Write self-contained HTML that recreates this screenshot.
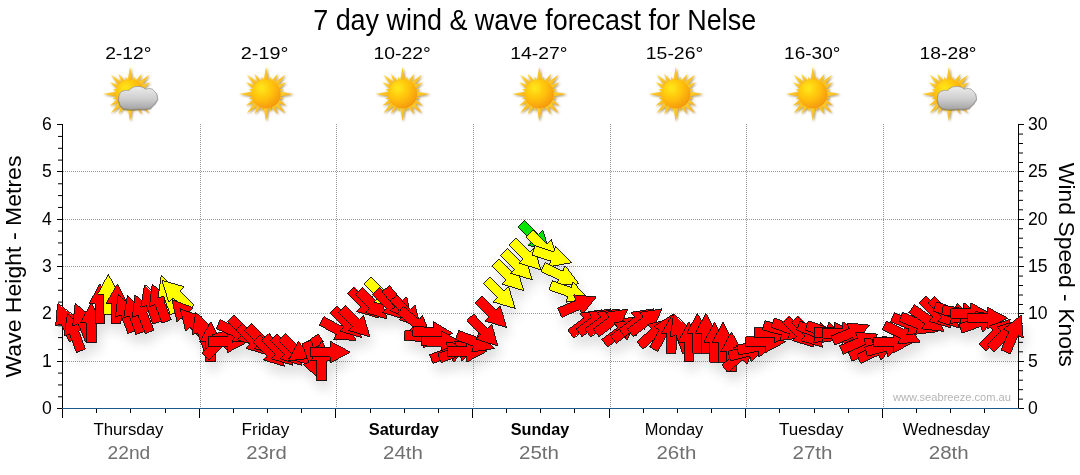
<!DOCTYPE html><html><head><meta charset="utf-8"><style>html,body{margin:0;padding:0;background:#fff;width:1080px;height:475px;overflow:hidden}svg{display:block}</style></head><body>
<svg width="1080" height="475" viewBox="0 0 1080 475" font-family="Liberation Sans, Arial, sans-serif">
<defs>
<radialGradient id="sunDisc" cx="0.35" cy="0.3" r="0.8">
<stop offset="0" stop-color="#ffe818"/><stop offset="0.5" stop-color="#ffbf0c"/><stop offset="1" stop-color="#f2900e"/></radialGradient>
<linearGradient id="rayG" x1="0" y1="0" x2="1" y2="1">
<stop offset="0" stop-color="#ffdc2e"/><stop offset="1" stop-color="#f5a81e"/></linearGradient>
<linearGradient id="cloudG" x1="0" y1="0" x2="0" y2="1">
<stop offset="0" stop-color="#ececec"/><stop offset="0.55" stop-color="#cdcdcd"/><stop offset="1" stop-color="#a4a4a4"/></linearGradient>
<filter id="cloudSh" x="-20%" y="-20%" width="140%" height="150%"><feGaussianBlur in="SourceAlpha" stdDeviation="0.7"/><feOffset dx="0.3" dy="0.9" result="b"/><feFlood flood-color="#5a4a30" flood-opacity="0.55"/><feComposite in2="b" operator="in"/><feMerge><feMergeNode/><feMergeNode in="SourceGraphic"/></feMerge></filter>
<filter id="icoSh" x="-20%" y="-20%" width="140%" height="140%"><feGaussianBlur in="SourceAlpha" stdDeviation="0.8"/><feOffset dx="0.5" dy="0.8" result="b"/><feFlood flood-color="#6b4a00" flood-opacity="0.6"/><feComposite in2="b" operator="in"/><feMerge><feMergeNode/><feMergeNode in="SourceGraphic"/></feMerge></filter>
<filter id="ash" x="-10%" y="-30%" width="120%" height="200%"><feGaussianBlur in="SourceAlpha" stdDeviation="6"/><feOffset dx="3" dy="9" result="b"/><feComponentTransfer in="b" result="c"><feFuncA type="linear" slope="0.13"/></feComponentTransfer><feMerge><feMergeNode in="c"/><feMergeNode in="SourceGraphic"/></feMerge></filter>
</defs>
<text x="534.7" y="30" font-size="29.5" text-anchor="middle" fill="#000" textLength="443" lengthAdjust="spacingAndGlyphs">7 day wind &amp; wave forecast for Nelse</text>
<text x="128.3" y="59" font-size="16.5" text-anchor="middle" textLength="46.3" lengthAdjust="spacingAndGlyphs">2-12°</text>
<text x="264.6" y="59" font-size="16.5" text-anchor="middle" textLength="47.5" lengthAdjust="spacingAndGlyphs">2-19°</text>
<text x="402.2" y="59" font-size="16.5" text-anchor="middle" textLength="57.3" lengthAdjust="spacingAndGlyphs">10-22°</text>
<text x="538.8" y="59" font-size="16.5" text-anchor="middle" textLength="57.3" lengthAdjust="spacingAndGlyphs">14-27°</text>
<text x="674.5" y="59" font-size="16.5" text-anchor="middle" textLength="57.4" lengthAdjust="spacingAndGlyphs">15-26°</text>
<text x="812.2" y="59" font-size="16.5" text-anchor="middle" textLength="56.3" lengthAdjust="spacingAndGlyphs">16-30°</text>
<text x="948.1" y="59" font-size="16.5" text-anchor="middle" textLength="57.0" lengthAdjust="spacingAndGlyphs">18-28°</text>
<g filter="url(#icoSh)"><polygon points="130.10,66.80 132.90,82.00 127.30,82.00" fill="url(#rayG)"/><polygon points="134.76,76.61 135.23,82.95 131.18,81.87" fill="url(#rayG)"/><polygon points="141.80,73.74 138.27,84.86 133.93,82.36" fill="url(#rayG)"/><polygon points="149.33,74.77 140.57,87.49 136.61,83.53" fill="url(#rayG)"/><polygon points="150.36,82.30 141.74,90.17 139.24,85.83" fill="url(#rayG)"/><polygon points="147.49,89.34 142.23,92.92 141.15,88.87" fill="url(#rayG)"/><polygon points="157.30,94.00 142.10,96.80 142.10,91.20" fill="url(#rayG)"/><polygon points="147.49,98.66 141.15,99.13 142.23,95.08" fill="url(#rayG)"/><polygon points="150.36,105.70 139.24,102.17 141.74,97.83" fill="url(#rayG)"/><polygon points="149.33,113.23 136.61,104.47 140.57,100.51" fill="url(#rayG)"/><polygon points="141.80,114.26 133.93,105.64 138.27,103.14" fill="url(#rayG)"/><polygon points="134.76,111.39 131.18,106.13 135.23,105.05" fill="url(#rayG)"/><polygon points="130.10,121.20 127.30,106.00 132.90,106.00" fill="url(#rayG)"/><polygon points="125.44,111.39 124.97,105.05 129.02,106.13" fill="url(#rayG)"/><polygon points="118.40,114.26 121.93,103.14 126.27,105.64" fill="url(#rayG)"/><polygon points="110.87,113.23 119.63,100.51 123.59,104.47" fill="url(#rayG)"/><polygon points="109.84,105.70 118.46,97.83 120.96,102.17" fill="url(#rayG)"/><polygon points="112.71,98.66 117.97,95.08 119.05,99.13" fill="url(#rayG)"/><polygon points="102.90,94.00 118.10,91.20 118.10,96.80" fill="url(#rayG)"/><polygon points="112.71,89.34 119.05,88.87 117.97,92.92" fill="url(#rayG)"/><polygon points="109.84,82.30 120.96,85.83 118.46,90.17" fill="url(#rayG)"/><polygon points="110.87,74.77 123.59,83.53 119.63,87.49" fill="url(#rayG)"/><polygon points="118.40,73.74 126.27,82.36 121.93,84.86" fill="url(#rayG)"/><polygon points="125.44,76.61 129.02,81.87 124.97,82.95" fill="url(#rayG)"/><circle cx="130.1" cy="94" r="14.6" fill="url(#sunDisc)"/></g>
<path d="M118.80,97.40 C119.17,94.07 119.00,94.80 120.40,92.70 C121.80,90.60 120.97,91.90 123.00,91.10 C125.03,90.30 124.60,90.53 126.50,90.30 C128.40,90.07 127.03,91.10 128.70,90.40 C130.37,89.70 128.83,89.47 131.50,88.20 C134.17,86.93 132.97,86.90 136.70,86.60 C140.43,86.30 139.77,86.50 142.70,87.30 C145.63,88.10 143.10,88.57 145.50,89.00 C147.90,89.43 146.93,87.87 149.90,88.60 C152.87,89.33 151.90,88.40 154.40,91.20 C156.90,94.00 156.80,93.53 157.40,97.00 C158.00,100.47 157.83,98.63 156.20,101.60 C154.57,104.57 155.13,103.57 152.50,105.90 C149.87,108.23 153.10,107.53 148.30,108.60 C143.50,109.67 145.13,108.93 138.10,109.10 C131.07,109.27 132.60,109.80 127.20,109.10 C121.80,108.40 124.53,109.13 121.90,107.00 C119.27,104.87 120.33,105.90 119.30,102.70 C118.27,99.50 118.43,100.73 118.80,97.40Z" fill="url(#cloudG)" stroke="#8c8c8c" stroke-width="0.7" filter="url(#cloudSh)"/>
<g filter="url(#icoSh)"><polygon points="266.10,66.80 268.90,82.00 263.30,82.00" fill="url(#rayG)"/><polygon points="270.76,76.61 271.23,82.95 267.18,81.87" fill="url(#rayG)"/><polygon points="277.80,73.74 274.27,84.86 269.93,82.36" fill="url(#rayG)"/><polygon points="285.33,74.77 276.57,87.49 272.61,83.53" fill="url(#rayG)"/><polygon points="286.36,82.30 277.74,90.17 275.24,85.83" fill="url(#rayG)"/><polygon points="283.49,89.34 278.23,92.92 277.15,88.87" fill="url(#rayG)"/><polygon points="293.30,94.00 278.10,96.80 278.10,91.20" fill="url(#rayG)"/><polygon points="283.49,98.66 277.15,99.13 278.23,95.08" fill="url(#rayG)"/><polygon points="286.36,105.70 275.24,102.17 277.74,97.83" fill="url(#rayG)"/><polygon points="285.33,113.23 272.61,104.47 276.57,100.51" fill="url(#rayG)"/><polygon points="277.80,114.26 269.93,105.64 274.27,103.14" fill="url(#rayG)"/><polygon points="270.76,111.39 267.18,106.13 271.23,105.05" fill="url(#rayG)"/><polygon points="266.10,121.20 263.30,106.00 268.90,106.00" fill="url(#rayG)"/><polygon points="261.44,111.39 260.97,105.05 265.02,106.13" fill="url(#rayG)"/><polygon points="254.40,114.26 257.93,103.14 262.27,105.64" fill="url(#rayG)"/><polygon points="246.87,113.23 255.63,100.51 259.59,104.47" fill="url(#rayG)"/><polygon points="245.84,105.70 254.46,97.83 256.96,102.17" fill="url(#rayG)"/><polygon points="248.71,98.66 253.97,95.08 255.05,99.13" fill="url(#rayG)"/><polygon points="238.90,94.00 254.10,91.20 254.10,96.80" fill="url(#rayG)"/><polygon points="248.71,89.34 255.05,88.87 253.97,92.92" fill="url(#rayG)"/><polygon points="245.84,82.30 256.96,85.83 254.46,90.17" fill="url(#rayG)"/><polygon points="246.87,74.77 259.59,83.53 255.63,87.49" fill="url(#rayG)"/><polygon points="254.40,73.74 262.27,82.36 257.93,84.86" fill="url(#rayG)"/><polygon points="261.44,76.61 265.02,81.87 260.97,82.95" fill="url(#rayG)"/><circle cx="266.1" cy="94" r="14.6" fill="url(#sunDisc)"/></g>
<g filter="url(#icoSh)"><polygon points="402.60,66.80 405.40,82.00 399.80,82.00" fill="url(#rayG)"/><polygon points="407.26,76.61 407.73,82.95 403.68,81.87" fill="url(#rayG)"/><polygon points="414.30,73.74 410.77,84.86 406.43,82.36" fill="url(#rayG)"/><polygon points="421.83,74.77 413.07,87.49 409.11,83.53" fill="url(#rayG)"/><polygon points="422.86,82.30 414.24,90.17 411.74,85.83" fill="url(#rayG)"/><polygon points="419.99,89.34 414.73,92.92 413.65,88.87" fill="url(#rayG)"/><polygon points="429.80,94.00 414.60,96.80 414.60,91.20" fill="url(#rayG)"/><polygon points="419.99,98.66 413.65,99.13 414.73,95.08" fill="url(#rayG)"/><polygon points="422.86,105.70 411.74,102.17 414.24,97.83" fill="url(#rayG)"/><polygon points="421.83,113.23 409.11,104.47 413.07,100.51" fill="url(#rayG)"/><polygon points="414.30,114.26 406.43,105.64 410.77,103.14" fill="url(#rayG)"/><polygon points="407.26,111.39 403.68,106.13 407.73,105.05" fill="url(#rayG)"/><polygon points="402.60,121.20 399.80,106.00 405.40,106.00" fill="url(#rayG)"/><polygon points="397.94,111.39 397.47,105.05 401.52,106.13" fill="url(#rayG)"/><polygon points="390.90,114.26 394.43,103.14 398.77,105.64" fill="url(#rayG)"/><polygon points="383.37,113.23 392.13,100.51 396.09,104.47" fill="url(#rayG)"/><polygon points="382.34,105.70 390.96,97.83 393.46,102.17" fill="url(#rayG)"/><polygon points="385.21,98.66 390.47,95.08 391.55,99.13" fill="url(#rayG)"/><polygon points="375.40,94.00 390.60,91.20 390.60,96.80" fill="url(#rayG)"/><polygon points="385.21,89.34 391.55,88.87 390.47,92.92" fill="url(#rayG)"/><polygon points="382.34,82.30 393.46,85.83 390.96,90.17" fill="url(#rayG)"/><polygon points="383.37,74.77 396.09,83.53 392.13,87.49" fill="url(#rayG)"/><polygon points="390.90,73.74 398.77,82.36 394.43,84.86" fill="url(#rayG)"/><polygon points="397.94,76.61 401.52,81.87 397.47,82.95" fill="url(#rayG)"/><circle cx="402.6" cy="94" r="14.6" fill="url(#sunDisc)"/></g>
<g filter="url(#icoSh)"><polygon points="539.30,66.80 542.10,82.00 536.50,82.00" fill="url(#rayG)"/><polygon points="543.96,76.61 544.43,82.95 540.38,81.87" fill="url(#rayG)"/><polygon points="551.00,73.74 547.47,84.86 543.13,82.36" fill="url(#rayG)"/><polygon points="558.53,74.77 549.77,87.49 545.81,83.53" fill="url(#rayG)"/><polygon points="559.56,82.30 550.94,90.17 548.44,85.83" fill="url(#rayG)"/><polygon points="556.69,89.34 551.43,92.92 550.35,88.87" fill="url(#rayG)"/><polygon points="566.50,94.00 551.30,96.80 551.30,91.20" fill="url(#rayG)"/><polygon points="556.69,98.66 550.35,99.13 551.43,95.08" fill="url(#rayG)"/><polygon points="559.56,105.70 548.44,102.17 550.94,97.83" fill="url(#rayG)"/><polygon points="558.53,113.23 545.81,104.47 549.77,100.51" fill="url(#rayG)"/><polygon points="551.00,114.26 543.13,105.64 547.47,103.14" fill="url(#rayG)"/><polygon points="543.96,111.39 540.38,106.13 544.43,105.05" fill="url(#rayG)"/><polygon points="539.30,121.20 536.50,106.00 542.10,106.00" fill="url(#rayG)"/><polygon points="534.64,111.39 534.17,105.05 538.22,106.13" fill="url(#rayG)"/><polygon points="527.60,114.26 531.13,103.14 535.47,105.64" fill="url(#rayG)"/><polygon points="520.07,113.23 528.83,100.51 532.79,104.47" fill="url(#rayG)"/><polygon points="519.04,105.70 527.66,97.83 530.16,102.17" fill="url(#rayG)"/><polygon points="521.91,98.66 527.17,95.08 528.25,99.13" fill="url(#rayG)"/><polygon points="512.10,94.00 527.30,91.20 527.30,96.80" fill="url(#rayG)"/><polygon points="521.91,89.34 528.25,88.87 527.17,92.92" fill="url(#rayG)"/><polygon points="519.04,82.30 530.16,85.83 527.66,90.17" fill="url(#rayG)"/><polygon points="520.07,74.77 532.79,83.53 528.83,87.49" fill="url(#rayG)"/><polygon points="527.60,73.74 535.47,82.36 531.13,84.86" fill="url(#rayG)"/><polygon points="534.64,76.61 538.22,81.87 534.17,82.95" fill="url(#rayG)"/><circle cx="539.3" cy="94" r="14.6" fill="url(#sunDisc)"/></g>
<g filter="url(#icoSh)"><polygon points="675.80,66.80 678.60,82.00 673.00,82.00" fill="url(#rayG)"/><polygon points="680.46,76.61 680.93,82.95 676.88,81.87" fill="url(#rayG)"/><polygon points="687.50,73.74 683.97,84.86 679.63,82.36" fill="url(#rayG)"/><polygon points="695.03,74.77 686.27,87.49 682.31,83.53" fill="url(#rayG)"/><polygon points="696.06,82.30 687.44,90.17 684.94,85.83" fill="url(#rayG)"/><polygon points="693.19,89.34 687.93,92.92 686.85,88.87" fill="url(#rayG)"/><polygon points="703.00,94.00 687.80,96.80 687.80,91.20" fill="url(#rayG)"/><polygon points="693.19,98.66 686.85,99.13 687.93,95.08" fill="url(#rayG)"/><polygon points="696.06,105.70 684.94,102.17 687.44,97.83" fill="url(#rayG)"/><polygon points="695.03,113.23 682.31,104.47 686.27,100.51" fill="url(#rayG)"/><polygon points="687.50,114.26 679.63,105.64 683.97,103.14" fill="url(#rayG)"/><polygon points="680.46,111.39 676.88,106.13 680.93,105.05" fill="url(#rayG)"/><polygon points="675.80,121.20 673.00,106.00 678.60,106.00" fill="url(#rayG)"/><polygon points="671.14,111.39 670.67,105.05 674.72,106.13" fill="url(#rayG)"/><polygon points="664.10,114.26 667.63,103.14 671.97,105.64" fill="url(#rayG)"/><polygon points="656.57,113.23 665.33,100.51 669.29,104.47" fill="url(#rayG)"/><polygon points="655.54,105.70 664.16,97.83 666.66,102.17" fill="url(#rayG)"/><polygon points="658.41,98.66 663.67,95.08 664.75,99.13" fill="url(#rayG)"/><polygon points="648.60,94.00 663.80,91.20 663.80,96.80" fill="url(#rayG)"/><polygon points="658.41,89.34 664.75,88.87 663.67,92.92" fill="url(#rayG)"/><polygon points="655.54,82.30 666.66,85.83 664.16,90.17" fill="url(#rayG)"/><polygon points="656.57,74.77 669.29,83.53 665.33,87.49" fill="url(#rayG)"/><polygon points="664.10,73.74 671.97,82.36 667.63,84.86" fill="url(#rayG)"/><polygon points="671.14,76.61 674.72,81.87 670.67,82.95" fill="url(#rayG)"/><circle cx="675.8" cy="94" r="14.6" fill="url(#sunDisc)"/></g>
<g filter="url(#icoSh)"><polygon points="812.90,66.80 815.70,82.00 810.10,82.00" fill="url(#rayG)"/><polygon points="817.56,76.61 818.03,82.95 813.98,81.87" fill="url(#rayG)"/><polygon points="824.60,73.74 821.07,84.86 816.73,82.36" fill="url(#rayG)"/><polygon points="832.13,74.77 823.37,87.49 819.41,83.53" fill="url(#rayG)"/><polygon points="833.16,82.30 824.54,90.17 822.04,85.83" fill="url(#rayG)"/><polygon points="830.29,89.34 825.03,92.92 823.95,88.87" fill="url(#rayG)"/><polygon points="840.10,94.00 824.90,96.80 824.90,91.20" fill="url(#rayG)"/><polygon points="830.29,98.66 823.95,99.13 825.03,95.08" fill="url(#rayG)"/><polygon points="833.16,105.70 822.04,102.17 824.54,97.83" fill="url(#rayG)"/><polygon points="832.13,113.23 819.41,104.47 823.37,100.51" fill="url(#rayG)"/><polygon points="824.60,114.26 816.73,105.64 821.07,103.14" fill="url(#rayG)"/><polygon points="817.56,111.39 813.98,106.13 818.03,105.05" fill="url(#rayG)"/><polygon points="812.90,121.20 810.10,106.00 815.70,106.00" fill="url(#rayG)"/><polygon points="808.24,111.39 807.77,105.05 811.82,106.13" fill="url(#rayG)"/><polygon points="801.20,114.26 804.73,103.14 809.07,105.64" fill="url(#rayG)"/><polygon points="793.67,113.23 802.43,100.51 806.39,104.47" fill="url(#rayG)"/><polygon points="792.64,105.70 801.26,97.83 803.76,102.17" fill="url(#rayG)"/><polygon points="795.51,98.66 800.77,95.08 801.85,99.13" fill="url(#rayG)"/><polygon points="785.70,94.00 800.90,91.20 800.90,96.80" fill="url(#rayG)"/><polygon points="795.51,89.34 801.85,88.87 800.77,92.92" fill="url(#rayG)"/><polygon points="792.64,82.30 803.76,85.83 801.26,90.17" fill="url(#rayG)"/><polygon points="793.67,74.77 806.39,83.53 802.43,87.49" fill="url(#rayG)"/><polygon points="801.20,73.74 809.07,82.36 804.73,84.86" fill="url(#rayG)"/><polygon points="808.24,76.61 811.82,81.87 807.77,82.95" fill="url(#rayG)"/><circle cx="812.9" cy="94" r="14.6" fill="url(#sunDisc)"/></g>
<g filter="url(#icoSh)"><polygon points="948.90,66.80 951.70,82.00 946.10,82.00" fill="url(#rayG)"/><polygon points="953.56,76.61 954.03,82.95 949.98,81.87" fill="url(#rayG)"/><polygon points="960.60,73.74 957.07,84.86 952.73,82.36" fill="url(#rayG)"/><polygon points="968.13,74.77 959.37,87.49 955.41,83.53" fill="url(#rayG)"/><polygon points="969.16,82.30 960.54,90.17 958.04,85.83" fill="url(#rayG)"/><polygon points="966.29,89.34 961.03,92.92 959.95,88.87" fill="url(#rayG)"/><polygon points="976.10,94.00 960.90,96.80 960.90,91.20" fill="url(#rayG)"/><polygon points="966.29,98.66 959.95,99.13 961.03,95.08" fill="url(#rayG)"/><polygon points="969.16,105.70 958.04,102.17 960.54,97.83" fill="url(#rayG)"/><polygon points="968.13,113.23 955.41,104.47 959.37,100.51" fill="url(#rayG)"/><polygon points="960.60,114.26 952.73,105.64 957.07,103.14" fill="url(#rayG)"/><polygon points="953.56,111.39 949.98,106.13 954.03,105.05" fill="url(#rayG)"/><polygon points="948.90,121.20 946.10,106.00 951.70,106.00" fill="url(#rayG)"/><polygon points="944.24,111.39 943.77,105.05 947.82,106.13" fill="url(#rayG)"/><polygon points="937.20,114.26 940.73,103.14 945.07,105.64" fill="url(#rayG)"/><polygon points="929.67,113.23 938.43,100.51 942.39,104.47" fill="url(#rayG)"/><polygon points="928.64,105.70 937.26,97.83 939.76,102.17" fill="url(#rayG)"/><polygon points="931.51,98.66 936.77,95.08 937.85,99.13" fill="url(#rayG)"/><polygon points="921.70,94.00 936.90,91.20 936.90,96.80" fill="url(#rayG)"/><polygon points="931.51,89.34 937.85,88.87 936.77,92.92" fill="url(#rayG)"/><polygon points="928.64,82.30 939.76,85.83 937.26,90.17" fill="url(#rayG)"/><polygon points="929.67,74.77 942.39,83.53 938.43,87.49" fill="url(#rayG)"/><polygon points="937.20,73.74 945.07,82.36 940.73,84.86" fill="url(#rayG)"/><polygon points="944.24,76.61 947.82,81.87 943.77,82.95" fill="url(#rayG)"/><circle cx="948.9" cy="94" r="14.6" fill="url(#sunDisc)"/></g>
<path d="M937.60,97.40 C937.97,94.07 937.80,94.80 939.20,92.70 C940.60,90.60 939.77,91.90 941.80,91.10 C943.83,90.30 943.40,90.53 945.30,90.30 C947.20,90.07 945.83,91.10 947.50,90.40 C949.17,89.70 947.63,89.47 950.30,88.20 C952.97,86.93 951.77,86.90 955.50,86.60 C959.23,86.30 958.57,86.50 961.50,87.30 C964.43,88.10 961.90,88.57 964.30,89.00 C966.70,89.43 965.73,87.87 968.70,88.60 C971.67,89.33 970.70,88.40 973.20,91.20 C975.70,94.00 975.60,93.53 976.20,97.00 C976.80,100.47 976.63,98.63 975.00,101.60 C973.37,104.57 973.93,103.57 971.30,105.90 C968.67,108.23 971.90,107.53 967.10,108.60 C962.30,109.67 963.93,108.93 956.90,109.10 C949.87,109.27 951.40,109.80 946.00,109.10 C940.60,108.40 943.33,109.13 940.70,107.00 C938.07,104.87 939.13,105.90 938.10,102.70 C937.07,99.50 937.23,100.73 937.60,97.40Z" fill="url(#cloudG)" stroke="#8c8c8c" stroke-width="0.7" filter="url(#cloudSh)"/>
<line x1="63" y1="361.5" x2="1018" y2="361.5" stroke="#999" stroke-width="1" stroke-dasharray="1 1"/>
<line x1="63" y1="313.5" x2="1018" y2="313.5" stroke="#999" stroke-width="1" stroke-dasharray="1 1"/>
<line x1="63" y1="266.5" x2="1018" y2="266.5" stroke="#999" stroke-width="1" stroke-dasharray="1 1"/>
<line x1="63" y1="219.5" x2="1018" y2="219.5" stroke="#999" stroke-width="1" stroke-dasharray="1 1"/>
<line x1="63" y1="171.5" x2="1018" y2="171.5" stroke="#999" stroke-width="1" stroke-dasharray="1 1"/>
<line x1="200.5" y1="124" x2="200.5" y2="408" stroke="#999" stroke-width="1" stroke-dasharray="1 1"/>
<line x1="336.5" y1="124" x2="336.5" y2="408" stroke="#999" stroke-width="1" stroke-dasharray="1 1"/>
<line x1="473.5" y1="124" x2="473.5" y2="408" stroke="#999" stroke-width="1" stroke-dasharray="1 1"/>
<line x1="610.5" y1="124" x2="610.5" y2="408" stroke="#999" stroke-width="1" stroke-dasharray="1 1"/>
<line x1="746.5" y1="124" x2="746.5" y2="408" stroke="#999" stroke-width="1" stroke-dasharray="1 1"/>
<line x1="883.5" y1="124" x2="883.5" y2="408" stroke="#999" stroke-width="1" stroke-dasharray="1 1"/>
<line x1="62.5" y1="124" x2="62.5" y2="418" stroke="#000" stroke-width="1"/>
<line x1="1018.5" y1="124" x2="1018.5" y2="409" stroke="#000" stroke-width="1"/>
<line x1="62" y1="408.5" x2="1019" y2="408.5" stroke="#1d5a8a" stroke-width="1.2"/>
<line x1="57" y1="408.5" x2="62" y2="408.5" stroke="#000" stroke-width="1"/>
<line x1="58" y1="396.77" x2="62" y2="396.77" stroke="#000" stroke-width="1"/>
<line x1="58" y1="384.93" x2="62" y2="384.93" stroke="#000" stroke-width="1"/>
<line x1="58" y1="373.10" x2="62" y2="373.10" stroke="#000" stroke-width="1"/>
<line x1="57" y1="361.5" x2="62" y2="361.5" stroke="#000" stroke-width="1"/>
<line x1="58" y1="349.43" x2="62" y2="349.43" stroke="#000" stroke-width="1"/>
<line x1="58" y1="337.60" x2="62" y2="337.60" stroke="#000" stroke-width="1"/>
<line x1="58" y1="325.77" x2="62" y2="325.77" stroke="#000" stroke-width="1"/>
<line x1="57" y1="313.5" x2="62" y2="313.5" stroke="#000" stroke-width="1"/>
<line x1="58" y1="302.10" x2="62" y2="302.10" stroke="#000" stroke-width="1"/>
<line x1="58" y1="290.27" x2="62" y2="290.27" stroke="#000" stroke-width="1"/>
<line x1="58" y1="278.43" x2="62" y2="278.43" stroke="#000" stroke-width="1"/>
<line x1="57" y1="266.5" x2="62" y2="266.5" stroke="#000" stroke-width="1"/>
<line x1="58" y1="254.77" x2="62" y2="254.77" stroke="#000" stroke-width="1"/>
<line x1="58" y1="242.93" x2="62" y2="242.93" stroke="#000" stroke-width="1"/>
<line x1="58" y1="231.10" x2="62" y2="231.10" stroke="#000" stroke-width="1"/>
<line x1="57" y1="219.5" x2="62" y2="219.5" stroke="#000" stroke-width="1"/>
<line x1="58" y1="207.43" x2="62" y2="207.43" stroke="#000" stroke-width="1"/>
<line x1="58" y1="195.60" x2="62" y2="195.60" stroke="#000" stroke-width="1"/>
<line x1="58" y1="183.77" x2="62" y2="183.77" stroke="#000" stroke-width="1"/>
<line x1="57" y1="171.5" x2="62" y2="171.5" stroke="#000" stroke-width="1"/>
<line x1="58" y1="160.10" x2="62" y2="160.10" stroke="#000" stroke-width="1"/>
<line x1="58" y1="148.27" x2="62" y2="148.27" stroke="#000" stroke-width="1"/>
<line x1="58" y1="136.43" x2="62" y2="136.43" stroke="#000" stroke-width="1"/>
<line x1="57" y1="124.5" x2="62" y2="124.5" stroke="#000" stroke-width="1"/>
<line x1="1019" y1="408.5" x2="1024" y2="408.5" stroke="#000" stroke-width="1"/>
<line x1="1019" y1="399.13" x2="1023" y2="399.13" stroke="#000" stroke-width="1"/>
<line x1="1019" y1="389.67" x2="1023" y2="389.67" stroke="#000" stroke-width="1"/>
<line x1="1019" y1="380.20" x2="1023" y2="380.20" stroke="#000" stroke-width="1"/>
<line x1="1019" y1="370.73" x2="1023" y2="370.73" stroke="#000" stroke-width="1"/>
<line x1="1019" y1="361.5" x2="1024" y2="361.5" stroke="#000" stroke-width="1"/>
<line x1="1019" y1="351.80" x2="1023" y2="351.80" stroke="#000" stroke-width="1"/>
<line x1="1019" y1="342.33" x2="1023" y2="342.33" stroke="#000" stroke-width="1"/>
<line x1="1019" y1="332.87" x2="1023" y2="332.87" stroke="#000" stroke-width="1"/>
<line x1="1019" y1="323.40" x2="1023" y2="323.40" stroke="#000" stroke-width="1"/>
<line x1="1019" y1="313.5" x2="1024" y2="313.5" stroke="#000" stroke-width="1"/>
<line x1="1019" y1="304.47" x2="1023" y2="304.47" stroke="#000" stroke-width="1"/>
<line x1="1019" y1="295.00" x2="1023" y2="295.00" stroke="#000" stroke-width="1"/>
<line x1="1019" y1="285.53" x2="1023" y2="285.53" stroke="#000" stroke-width="1"/>
<line x1="1019" y1="276.07" x2="1023" y2="276.07" stroke="#000" stroke-width="1"/>
<line x1="1019" y1="266.5" x2="1024" y2="266.5" stroke="#000" stroke-width="1"/>
<line x1="1019" y1="257.13" x2="1023" y2="257.13" stroke="#000" stroke-width="1"/>
<line x1="1019" y1="247.67" x2="1023" y2="247.67" stroke="#000" stroke-width="1"/>
<line x1="1019" y1="238.20" x2="1023" y2="238.20" stroke="#000" stroke-width="1"/>
<line x1="1019" y1="228.73" x2="1023" y2="228.73" stroke="#000" stroke-width="1"/>
<line x1="1019" y1="219.5" x2="1024" y2="219.5" stroke="#000" stroke-width="1"/>
<line x1="1019" y1="209.80" x2="1023" y2="209.80" stroke="#000" stroke-width="1"/>
<line x1="1019" y1="200.33" x2="1023" y2="200.33" stroke="#000" stroke-width="1"/>
<line x1="1019" y1="190.87" x2="1023" y2="190.87" stroke="#000" stroke-width="1"/>
<line x1="1019" y1="181.40" x2="1023" y2="181.40" stroke="#000" stroke-width="1"/>
<line x1="1019" y1="171.5" x2="1024" y2="171.5" stroke="#000" stroke-width="1"/>
<line x1="1019" y1="162.47" x2="1023" y2="162.47" stroke="#000" stroke-width="1"/>
<line x1="1019" y1="153.00" x2="1023" y2="153.00" stroke="#000" stroke-width="1"/>
<line x1="1019" y1="143.53" x2="1023" y2="143.53" stroke="#000" stroke-width="1"/>
<line x1="1019" y1="134.07" x2="1023" y2="134.07" stroke="#000" stroke-width="1"/>
<line x1="1019" y1="124.5" x2="1024" y2="124.5" stroke="#000" stroke-width="1"/>
<line x1="62.5" y1="409" x2="62.5" y2="418" stroke="#000" stroke-width="1"/>
<line x1="96.5" y1="409" x2="96.5" y2="413" stroke="#000" stroke-width="1"/>
<line x1="130.5" y1="409" x2="130.5" y2="413" stroke="#000" stroke-width="1"/>
<line x1="165.5" y1="409" x2="165.5" y2="413" stroke="#000" stroke-width="1"/>
<line x1="199.5" y1="409" x2="199.5" y2="418" stroke="#000" stroke-width="1"/>
<line x1="233.5" y1="409" x2="233.5" y2="413" stroke="#000" stroke-width="1"/>
<line x1="267.5" y1="409" x2="267.5" y2="413" stroke="#000" stroke-width="1"/>
<line x1="301.5" y1="409" x2="301.5" y2="413" stroke="#000" stroke-width="1"/>
<line x1="335.5" y1="409" x2="335.5" y2="418" stroke="#000" stroke-width="1"/>
<line x1="370.5" y1="409" x2="370.5" y2="413" stroke="#000" stroke-width="1"/>
<line x1="404.5" y1="409" x2="404.5" y2="413" stroke="#000" stroke-width="1"/>
<line x1="438.5" y1="409" x2="438.5" y2="413" stroke="#000" stroke-width="1"/>
<line x1="472.5" y1="409" x2="472.5" y2="418" stroke="#000" stroke-width="1"/>
<line x1="506.5" y1="409" x2="506.5" y2="413" stroke="#000" stroke-width="1"/>
<line x1="540.5" y1="409" x2="540.5" y2="413" stroke="#000" stroke-width="1"/>
<line x1="574.5" y1="409" x2="574.5" y2="413" stroke="#000" stroke-width="1"/>
<line x1="609.5" y1="409" x2="609.5" y2="418" stroke="#000" stroke-width="1"/>
<line x1="643.5" y1="409" x2="643.5" y2="413" stroke="#000" stroke-width="1"/>
<line x1="677.5" y1="409" x2="677.5" y2="413" stroke="#000" stroke-width="1"/>
<line x1="711.5" y1="409" x2="711.5" y2="413" stroke="#000" stroke-width="1"/>
<line x1="745.5" y1="409" x2="745.5" y2="418" stroke="#000" stroke-width="1"/>
<line x1="779.5" y1="409" x2="779.5" y2="413" stroke="#000" stroke-width="1"/>
<line x1="814.5" y1="409" x2="814.5" y2="413" stroke="#000" stroke-width="1"/>
<line x1="848.5" y1="409" x2="848.5" y2="413" stroke="#000" stroke-width="1"/>
<line x1="882.5" y1="409" x2="882.5" y2="418" stroke="#000" stroke-width="1"/>
<line x1="916.5" y1="409" x2="916.5" y2="413" stroke="#000" stroke-width="1"/>
<line x1="950.5" y1="409" x2="950.5" y2="413" stroke="#000" stroke-width="1"/>
<line x1="984.5" y1="409" x2="984.5" y2="413" stroke="#000" stroke-width="1"/>
<g filter="url(#ash)" stroke="#111" stroke-width="0.9" stroke-linejoin="miter" shape-rendering="crispEdges">
<polygon points="57.5,303.6 75.5,317.5 70.0,319.9 78.0,338.0 69.3,341.9 61.2,323.8 55.7,326.2" fill="#ff0000"/>
<polygon points="67.3,313.5 84.3,328.6 78.6,330.6 85.4,349.2 76.4,352.5 69.6,333.9 64.0,336.0" fill="#ff0000"/>
<polygon points="75.2,303.3 92.7,317.8 87.1,320.1 94.5,338.4 85.6,342.0 78.2,323.7 72.7,325.9" fill="#ff0000"/>
<polygon points="91.2,302.8 102.0,322.8 96.0,322.8 96.0,342.6 86.4,342.6 86.4,322.8 80.4,322.8" fill="#ff0000"/>
<polygon points="99.8,283.9 110.5,303.9 104.5,303.9 104.5,323.7 95.0,323.7 95.0,303.9 89.0,303.9" fill="#ff0000"/>
<polygon points="108.3,274.4 119.1,294.4 113.1,294.4 113.1,314.2 103.5,314.2 103.5,294.4 97.5,294.4" fill="#ffff00"/>
<polygon points="117.5,283.9 127.6,304.2 121.6,304.0 120.9,323.8 111.3,323.5 112.0,303.7 106.0,303.5" fill="#ff0000"/>
<polygon points="118.2,294.7 135.4,309.5 129.8,311.6 136.9,330.1 128.0,333.5 120.9,315.1 115.3,317.2" fill="#ff0000"/>
<polygon points="127.4,295.4 144.1,310.8 138.4,312.7 144.9,331.4 135.8,334.6 129.4,315.8 123.7,317.8" fill="#ff0000"/>
<polygon points="134.9,294.8 152.5,309.3 146.9,311.5 154.3,329.9 145.4,333.5 138.0,315.1 132.4,317.4" fill="#ff0000"/>
<polygon points="144.5,285.0 161.2,300.4 155.5,302.3 162.0,321.0 152.9,324.2 146.4,305.4 140.8,307.4" fill="#ff0000"/>
<polygon points="152.3,284.2 169.6,299.0 164.0,301.2 171.1,319.7 162.1,323.1 155.0,304.6 149.4,306.8" fill="#ff0000"/>
<polygon points="161.2,275.6 178.2,290.7 172.6,292.8 179.3,311.4 170.3,314.6 163.5,296.0 157.9,298.1" fill="#ffff00"/>
<polygon points="162.2,280.5 184.1,286.6 179.9,290.9 194.2,304.7 187.5,311.6 173.3,297.9 169.1,302.2" fill="#ffff00"/>
<polygon points="172.0,299.8 193.3,307.8 188.7,311.7 201.7,326.6 194.5,332.9 181.5,318.0 177.0,321.9" fill="#ff0000"/>
<polygon points="180.3,308.9 201.7,316.5 197.2,320.5 210.5,335.2 203.3,341.7 190.1,327.0 185.6,331.0" fill="#ff0000"/>
<polygon points="195.7,312.4 212.4,327.8 206.7,329.8 213.2,348.5 204.1,351.6 197.7,332.9 192.0,334.8" fill="#ff0000"/>
<polygon points="210.7,321.7 221.5,341.7 215.5,341.7 215.5,361.5 205.9,361.5 205.9,341.7 199.9,341.7" fill="#ff0000"/>
<polygon points="233.4,328.5 226.9,350.3 222.7,346.1 208.7,360.1 201.9,353.3 215.9,339.3 211.6,335.0" fill="#ff0000"/>
<polygon points="247.8,341.7 227.8,352.5 227.8,346.5 208.0,346.5 208.0,336.9 227.8,336.9 227.8,330.9" fill="#ff0000"/>
<polygon points="254.6,340.4 232.0,342.1 234.4,336.7 216.3,328.6 220.2,319.8 238.3,327.9 240.7,322.4" fill="#ff0000"/>
<polygon points="259.0,346.4 237.3,339.9 241.5,335.7 227.5,321.7 234.3,314.9 248.3,328.9 252.5,324.6" fill="#ff0000"/>
<polygon points="267.6,354.9 245.8,348.4 250.0,344.2 236.0,330.2 242.8,323.4 256.8,337.4 261.1,333.1" fill="#ff0000"/>
<polygon points="276.1,354.9 254.3,348.4 258.6,344.2 244.6,330.2 251.4,323.4 265.4,337.4 269.6,333.1" fill="#ff0000"/>
<polygon points="284.6,366.3 262.9,359.8 267.1,355.5 253.1,341.5 259.9,334.8 273.9,348.8 278.1,344.5" fill="#ff0000"/>
<polygon points="293.2,365.3 271.4,358.8 275.6,354.6 261.6,340.6 268.4,333.8 282.4,347.8 286.7,343.6" fill="#ff0000"/>
<polygon points="301.7,365.3 279.9,358.8 284.2,354.6 270.2,340.6 277.0,333.8 291.0,347.8 295.2,343.6" fill="#ff0000"/>
<polygon points="310.3,365.3 288.5,358.8 292.7,354.6 278.7,340.6 285.5,333.8 299.5,347.8 303.7,343.6" fill="#ff0000"/>
<polygon points="288.3,360.8 298.5,340.5 301.9,345.4 318.1,334.0 323.6,341.9 307.4,353.2 310.8,358.2" fill="#ff0000"/>
<polygon points="320.0,379.5 303.0,364.4 308.7,362.3 301.9,343.7 310.9,340.4 317.7,359.0 323.3,357.0" fill="#ff0000"/>
<polygon points="321.7,340.7 332.5,360.7 326.5,360.7 326.5,380.5 316.9,380.5 316.9,360.7 310.9,360.7" fill="#ff0000"/>
<polygon points="350.3,352.1 330.3,362.9 330.3,356.9 310.5,356.9 310.5,347.3 330.3,347.3 330.3,341.3" fill="#ff0000"/>
<polygon points="356.3,340.1 333.6,339.8 336.5,334.6 319.2,325.0 323.8,316.6 341.1,326.2 344.0,320.9" fill="#ff0000"/>
<polygon points="361.5,337.5 339.7,331.0 343.9,326.8 329.9,312.8 336.7,306.0 350.7,320.0 355.0,315.7" fill="#ff0000"/>
<polygon points="370.0,336.9 348.2,330.4 352.5,326.2 338.5,312.2 345.3,305.4 359.3,319.4 363.5,315.2" fill="#ff0000"/>
<polygon points="378.6,318.0 356.8,311.5 361.0,307.3 347.0,293.3 353.8,286.5 367.8,300.5 372.0,296.2" fill="#ff0000"/>
<polygon points="387.1,319.0 365.3,312.5 369.6,308.2 355.6,294.2 362.3,287.4 376.3,301.4 380.6,297.2" fill="#ff0000"/>
<polygon points="395.6,308.5 373.9,302.0 378.1,297.8 364.1,283.8 370.9,277.0 384.9,291.0 389.1,286.8" fill="#ffff00"/>
<polygon points="404.2,319.0 382.4,312.5 386.6,308.2 372.6,294.2 379.4,287.4 393.4,301.4 397.7,297.2" fill="#ff0000"/>
<polygon points="411.4,319.2 390.3,310.8 394.9,307.0 382.2,291.8 389.5,285.6 402.2,300.8 406.8,296.9" fill="#ff0000"/>
<polygon points="420.5,327.2 399.1,319.6 403.5,315.6 390.3,300.9 397.4,294.5 410.7,309.2 415.1,305.2" fill="#ff0000"/>
<polygon points="431.0,335.7 408.7,331.1 412.6,326.5 397.4,313.7 403.6,306.4 418.7,319.1 422.6,314.5" fill="#ff0000"/>
<polygon points="444.1,338.7 423.2,347.8 423.8,341.8 404.0,340.1 404.9,330.5 424.6,332.2 425.1,326.2" fill="#ff0000"/>
<polygon points="452.7,333.3 432.1,343.1 432.5,337.1 412.7,336.0 413.2,326.4 433.0,327.5 433.3,321.5" fill="#ff0000"/>
<polygon points="461.2,342.4 440.9,352.5 441.1,346.5 421.3,345.8 421.6,336.2 441.4,336.9 441.6,330.9" fill="#ff0000"/>
<polygon points="468.6,345.3 453.5,362.3 451.4,356.7 432.8,363.4 429.5,354.4 448.1,347.6 446.1,342.0" fill="#ff0000"/>
<polygon points="477.1,344.4 462.0,361.3 460.0,355.7 441.4,362.5 438.1,353.5 456.7,346.7 454.6,341.1" fill="#ff0000"/>
<polygon points="486.9,351.2 466.9,362.0 466.9,356.0 447.1,356.0 447.1,346.4 466.9,346.4 466.9,340.4" fill="#ff0000"/>
<polygon points="494.2,348.6 471.7,351.9 473.8,346.2 455.2,339.5 458.4,330.5 477.0,337.2 479.1,331.6" fill="#ff0000"/>
<polygon points="497.8,346.0 476.2,339.1 480.5,334.9 466.7,320.7 473.6,314.0 487.4,328.3 491.7,324.1" fill="#ff0000"/>
<polygon points="506.6,327.5 484.8,321.0 489.1,316.7 475.1,302.7 481.9,295.9 495.9,309.9 500.1,305.7" fill="#ff0000"/>
<polygon points="515.2,308.5 493.4,302.0 497.6,297.8 483.6,283.8 490.4,277.0 504.4,291.0 508.6,286.8" fill="#ffff00"/>
<polygon points="523.7,290.6 501.9,284.1 506.2,279.8 492.2,265.8 498.9,259.0 512.9,273.0 517.2,268.8" fill="#ffff00"/>
<polygon points="532.2,280.1 510.5,273.6 514.7,269.4 500.7,255.4 507.5,248.6 521.5,262.6 525.7,258.4" fill="#ffff00"/>
<polygon points="540.8,269.7 519.0,263.2 523.2,259.0 509.2,245.0 516.0,238.2 530.0,252.2 534.3,247.9" fill="#ffff00"/>
<polygon points="549.3,251.7 527.5,245.2 531.8,241.0 517.8,227.0 524.6,220.2 538.6,234.2 542.8,230.0" fill="#00e600"/>
<polygon points="557.8,261.2 536.1,254.7 540.3,250.5 526.3,236.5 533.1,229.7 547.1,243.7 551.3,239.4" fill="#ffff00"/>
<polygon points="571.3,262.7 548.9,266.8 550.8,261.1 531.9,255.0 534.9,245.8 553.7,252.0 555.6,246.3" fill="#ffff00"/>
<polygon points="578.9,283.9 556.2,285.3 558.7,279.8 540.8,271.4 544.9,262.7 562.8,271.1 565.3,265.7" fill="#ffff00"/>
<polygon points="588.1,298.9 565.6,302.2 567.7,296.5 549.1,289.8 552.3,280.8 571.0,287.5 573.0,281.9" fill="#ffff00"/>
<polygon points="596.3,297.0 582.1,314.8 579.7,309.2 561.5,317.0 557.7,308.1 576.0,300.4 573.6,294.9" fill="#ff0000"/>
<polygon points="602.4,309.8 592.9,330.5 589.3,325.7 573.5,337.6 567.7,329.9 583.5,318.0 579.9,313.2" fill="#ff0000"/>
<polygon points="610.9,308.9 601.4,329.5 597.8,324.7 582.0,336.7 576.2,329.0 592.0,317.1 588.4,312.3" fill="#ff0000"/>
<polygon points="619.4,308.9 610.0,329.5 606.4,324.7 590.5,336.7 584.8,329.0 600.6,317.1 597.0,312.3" fill="#ff0000"/>
<polygon points="628.0,308.9 618.5,329.5 614.9,324.7 599.1,336.7 593.3,329.0 609.1,317.1 605.5,312.3" fill="#ff0000"/>
<polygon points="636.5,319.3 627.0,339.9 623.4,335.2 607.6,347.1 601.8,339.4 617.6,327.5 614.0,322.7" fill="#ff0000"/>
<polygon points="645.0,315.5 635.6,336.2 632.0,331.4 616.2,343.3 610.4,335.6 626.2,323.7 622.6,318.9" fill="#ff0000"/>
<polygon points="653.6,308.9 644.1,329.5 640.5,324.7 624.7,336.7 618.9,329.0 634.7,317.1 631.1,312.3" fill="#ff0000"/>
<polygon points="662.1,308.9 652.6,329.5 649.0,324.7 633.2,336.7 627.4,329.0 643.3,317.1 639.7,312.3" fill="#ff0000"/>
<polygon points="669.6,318.9 661.9,340.3 657.9,335.8 643.2,349.1 636.8,341.9 651.5,328.7 647.5,324.2" fill="#ff0000"/>
<polygon points="672.9,314.3 672.7,337.0 667.4,334.1 657.8,351.4 649.4,346.8 659.0,329.5 653.8,326.6" fill="#ff0000"/>
<polygon points="672.5,313.5 682.6,333.9 676.6,333.7 675.9,353.5 666.3,353.1 667.0,333.3 661.0,333.1" fill="#ff0000"/>
<polygon points="673.5,314.4 690.4,329.5 684.8,331.6 691.6,350.2 682.6,353.5 675.8,334.9 670.2,336.9" fill="#ff0000"/>
<polygon points="688.8,322.0 699.6,342.0 693.6,342.0 693.6,361.8 684.0,361.8 684.0,342.0 678.0,342.0" fill="#ff0000"/>
<polygon points="697.4,313.4 708.2,333.4 702.2,333.4 702.2,353.2 692.6,353.2 692.6,333.4 686.6,333.4" fill="#ff0000"/>
<polygon points="705.9,313.4 716.7,333.4 710.7,333.4 710.7,353.2 701.1,353.2 701.1,333.4 695.1,333.4" fill="#ff0000"/>
<polygon points="714.5,322.4 725.2,342.4 719.2,342.4 719.2,362.2 709.7,362.2 709.7,342.4 703.7,342.4" fill="#ff0000"/>
<polygon points="723.0,322.4 733.8,342.4 727.8,342.4 727.8,362.2 718.2,362.2 718.2,342.4 712.2,342.4" fill="#ff0000"/>
<polygon points="731.5,331.8 742.3,351.8 736.3,351.8 736.3,371.6 726.7,371.6 726.7,351.8 720.7,351.8" fill="#ff0000"/>
<polygon points="755.4,343.1 747.0,364.2 743.1,359.6 728.0,372.3 721.8,365.0 737.0,352.3 733.1,347.7" fill="#ff0000"/>
<polygon points="768.0,346.4 751.2,361.7 749.8,355.9 730.5,360.6 728.2,351.3 747.4,346.5 746.0,340.7" fill="#ff0000"/>
<polygon points="776.8,343.0 759.0,357.1 758.0,351.2 738.5,354.6 736.8,345.2 756.3,341.7 755.3,335.8" fill="#ff0000"/>
<polygon points="785.7,341.7 765.7,352.5 765.7,346.5 745.9,346.5 745.9,336.9 765.7,336.9 765.7,330.9" fill="#ff0000"/>
<polygon points="794.2,332.3 774.2,343.1 774.2,337.1 754.4,337.1 754.4,327.5 774.2,327.5 774.2,321.5" fill="#ff0000"/>
<polygon points="802.1,335.5 780.0,340.8 781.5,335.0 762.4,329.9 764.9,320.6 784.0,325.7 785.5,319.9" fill="#ff0000"/>
<polygon points="810.1,336.3 787.6,339.6 789.6,333.9 771.0,327.2 774.3,318.1 792.9,324.9 795.0,319.3" fill="#ff0000"/>
<polygon points="814.0,347.1 792.2,340.6 796.4,336.3 782.4,322.3 789.2,315.5 803.2,329.5 807.5,325.3" fill="#ff0000"/>
<polygon points="822.5,347.1 800.7,340.6 805.0,336.3 791.0,322.3 797.8,315.5 811.8,329.5 816.0,325.3" fill="#ff0000"/>
<polygon points="835.7,339.4 813.2,342.7 815.3,337.1 796.7,330.3 799.9,321.3 818.5,328.0 820.6,322.4" fill="#ff0000"/>
<polygon points="844.2,339.1 821.7,342.4 823.8,336.8 805.2,330.0 808.5,321.0 827.1,327.8 829.1,322.1" fill="#ff0000"/>
<polygon points="854.0,332.6 834.0,343.4 834.0,337.4 814.2,337.4 814.2,327.8 834.0,327.8 834.0,321.8" fill="#ff0000"/>
<polygon points="862.5,333.2 842.5,344.0 842.5,338.0 822.7,338.0 822.7,328.4 842.5,328.4 842.5,322.4" fill="#ff0000"/>
<polygon points="869.5,325.1 855.3,342.9 852.9,337.3 834.7,345.1 830.9,336.2 849.2,328.5 846.8,323.0" fill="#ff0000"/>
<polygon points="878.0,334.2 863.8,352.0 861.5,346.4 843.2,354.2 839.5,345.3 857.7,337.6 855.4,332.1" fill="#ff0000"/>
<polygon points="886.3,339.9 872.7,358.1 870.2,352.7 852.2,361.1 848.2,352.4 866.1,344.0 863.6,338.6" fill="#ff0000"/>
<polygon points="894.8,342.2 881.2,360.4 878.7,355.0 860.7,363.4 856.7,354.6 874.6,346.3 872.1,340.8" fill="#ff0000"/>
<polygon points="904.5,341.3 888.0,356.9 886.4,351.1 867.3,356.2 864.8,347.0 884.0,341.8 882.4,336.0" fill="#ff0000"/>
<polygon points="913.7,342.0 893.7,352.8 893.7,346.8 873.9,346.8 873.9,337.2 893.7,337.2 893.7,331.2" fill="#ff0000"/>
<polygon points="920.4,342.2 897.7,343.6 900.2,338.1 882.3,329.8 886.4,321.1 904.3,329.4 906.8,324.0" fill="#ff0000"/>
<polygon points="929.4,332.2 906.8,334.7 909.0,329.1 890.7,321.7 894.3,312.8 912.6,320.2 914.9,314.7" fill="#ff0000"/>
<polygon points="937.9,331.7 915.3,334.2 917.6,328.7 899.2,321.3 902.8,312.4 921.1,319.8 923.4,314.2" fill="#ff0000"/>
<polygon points="944.3,331.4 921.7,328.8 925.1,323.9 908.9,312.5 914.4,304.7 930.6,316.0 934.1,311.1" fill="#ff0000"/>
<polygon points="950.6,327.8 928.8,321.3 933.0,317.0 919.0,303.0 925.8,296.2 939.8,310.2 944.1,306.0" fill="#ff0000"/>
<polygon points="959.1,327.8 937.3,321.3 941.6,317.0 927.6,303.0 934.4,296.2 948.4,310.2 952.6,306.0" fill="#ff0000"/>
<polygon points="972.3,320.2 949.8,323.5 951.9,317.8 933.3,311.1 936.5,302.1 955.1,308.8 957.2,303.2" fill="#ff0000"/>
<polygon points="981.7,316.8 960.2,324.0 961.2,318.1 941.7,314.6 943.4,305.2 962.9,308.6 963.9,302.7" fill="#ff0000"/>
<polygon points="990.6,313.6 970.6,324.4 970.6,318.4 950.8,318.4 950.8,308.8 970.6,308.8 970.6,302.8" fill="#ff0000"/>
<polygon points="997.9,315.0 982.8,332.0 980.8,326.4 962.1,333.1 958.9,324.1 977.5,317.3 975.4,311.7" fill="#ff0000"/>
<polygon points="1007.6,318.1 987.6,328.9 987.6,322.9 967.9,322.9 967.9,313.3 987.6,313.3 987.6,307.3" fill="#ff0000"/>
<polygon points="1010.3,319.4 1003.8,341.2 999.6,337.0 985.6,351.0 978.8,344.2 992.8,330.2 988.6,326.0" fill="#ff0000"/>
<polygon points="1018.9,320.3 1012.4,342.1 1008.1,337.8 994.1,351.8 987.3,345.1 1001.3,331.0 997.1,326.8" fill="#ff0000"/>
<polygon points="1021.1,315.2 1023.2,337.8 1017.7,335.5 1009.9,353.7 1001.1,349.9 1008.8,331.7 1003.3,329.4" fill="#ff0000"/>
</g>
<text x="51.8" y="414.0" font-size="17.6" text-anchor="end">0</text>
<text x="51.8" y="366.7" font-size="17.6" text-anchor="end">1</text>
<text x="51.8" y="319.3" font-size="17.6" text-anchor="end">2</text>
<text x="51.8" y="272.0" font-size="17.6" text-anchor="end">3</text>
<text x="51.8" y="224.7" font-size="17.6" text-anchor="end">4</text>
<text x="51.8" y="177.3" font-size="17.6" text-anchor="end">5</text>
<text x="51.8" y="130.0" font-size="17.6" text-anchor="end">6</text>
<text x="1028" y="414.0" font-size="17.6">0</text>
<text x="1028" y="366.7" font-size="17.6">5</text>
<text x="1028" y="319.3" font-size="17.6">10</text>
<text x="1028" y="272.0" font-size="17.6">15</text>
<text x="1028" y="224.7" font-size="17.6">20</text>
<text x="1028" y="177.3" font-size="17.6">25</text>
<text x="1028" y="130.0" font-size="17.6">30</text>
<text transform="translate(21,266.6) rotate(-90)" font-size="22" text-anchor="middle" textLength="222" lengthAdjust="spacingAndGlyphs">Wave Height - Metres</text>
<text transform="translate(1059,264.8) rotate(90)" font-size="22" text-anchor="middle" textLength="204" lengthAdjust="spacingAndGlyphs">Wind Speed - Knots</text>
<text x="128.4" y="435" font-size="16" text-anchor="middle" textLength="70" lengthAdjust="spacingAndGlyphs">Thursday</text>
<text x="128.9" y="458.5" font-size="17.5" fill="#707070" text-anchor="middle" textLength="42.7" lengthAdjust="spacingAndGlyphs">22nd</text>
<text x="265.4" y="435" font-size="16" text-anchor="middle" textLength="47.7" lengthAdjust="spacingAndGlyphs">Friday</text>
<text x="266.5" y="458.5" font-size="17.5" fill="#707070" text-anchor="middle" textLength="40.6" lengthAdjust="spacingAndGlyphs">23rd</text>
<text x="403.8" y="435" font-size="16" font-weight="bold" text-anchor="middle" textLength="70.2" lengthAdjust="spacingAndGlyphs">Saturday</text>
<text x="403" y="458.5" font-size="17.5" fill="#707070" text-anchor="middle" textLength="39.9" lengthAdjust="spacingAndGlyphs">24th</text>
<text x="540" y="435" font-size="16" font-weight="bold" text-anchor="middle" textLength="58.5" lengthAdjust="spacingAndGlyphs">Sunday</text>
<text x="539" y="458.5" font-size="17.5" fill="#707070" text-anchor="middle" textLength="39.9" lengthAdjust="spacingAndGlyphs">25th</text>
<text x="674" y="435" font-size="16" text-anchor="middle" textLength="58.5" lengthAdjust="spacingAndGlyphs">Monday</text>
<text x="676.4" y="458.5" font-size="17.5" fill="#707070" text-anchor="middle" textLength="39.8" lengthAdjust="spacingAndGlyphs">26th</text>
<text x="811.2" y="435" font-size="16" text-anchor="middle" textLength="64.4" lengthAdjust="spacingAndGlyphs">Tuesday</text>
<text x="812.5" y="458.5" font-size="17.5" fill="#707070" text-anchor="middle" textLength="40" lengthAdjust="spacingAndGlyphs">27th</text>
<text x="946.4" y="435" font-size="16" text-anchor="middle" textLength="87.3" lengthAdjust="spacingAndGlyphs">Wednesday</text>
<text x="948.7" y="458.5" font-size="17.5" fill="#707070" text-anchor="middle" textLength="39.9" lengthAdjust="spacingAndGlyphs">28th</text>
<text x="952" y="401" font-size="10.5" fill="#b4b4b4" text-anchor="middle" textLength="118" lengthAdjust="spacingAndGlyphs">www.seabreeze.com.au</text>
</svg></body></html>
